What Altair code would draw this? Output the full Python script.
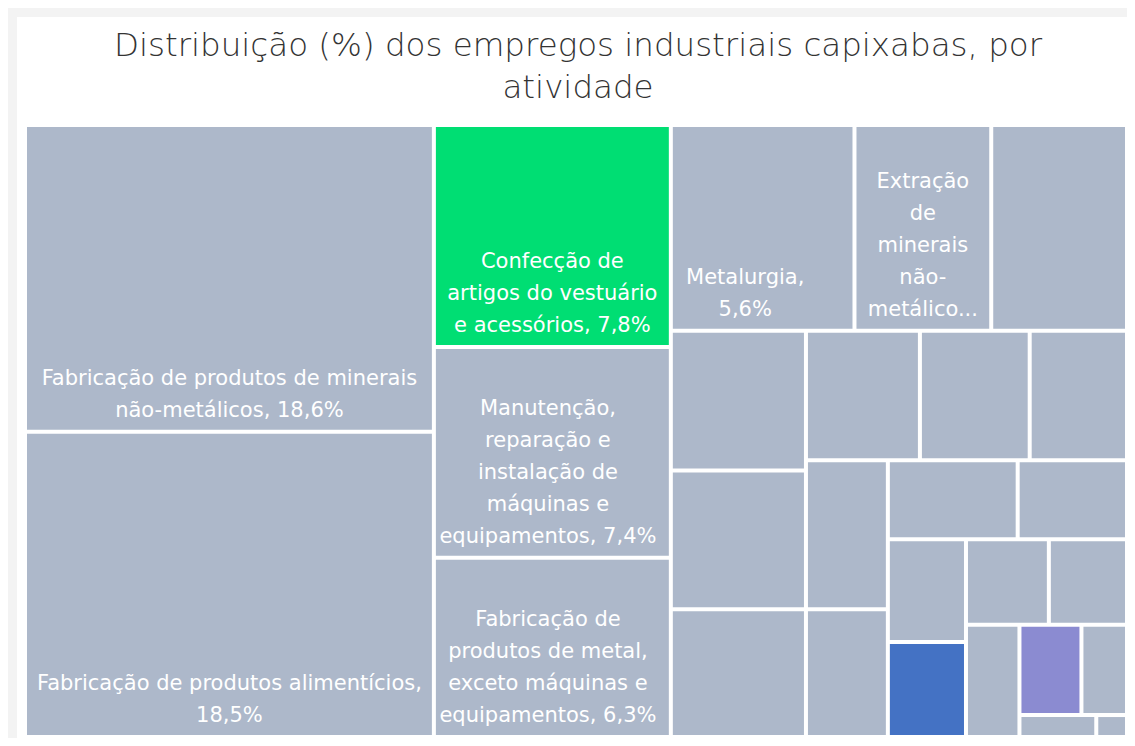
import altair as alt
import pandas as pd

# ---------------- data ----------------
names = [
    "Fabricação de produtos de minerais não-metálicos",
    "Fabricação de produtos alimentícios",
    "Confecção de artigos do vestuário e acessórios",
    "Manutenção, reparação e instalação de máquinas e equipamentos",
    "Fabricação de produtos de metal, exceto máquinas e equipamentos",
    "Metalurgia",
    "Extração de minerais não-metálicos",
    "Fabricação de celulose, papel e produtos de papel",
    "Extração de minerais metálicos",
    "Fabricação de móveis",
    "Fabricação de produtos de borracha e de material plástico",
    "Fabricação de bebidas",
    "Fabricação de produtos químicos",
    "Impressão e reprodução de gravações",
    "Fabricação de máquinas e equipamentos",
    "Preparação de couros e fabricação de calçados",
    "Fabricação de produtos de madeira",
    "Fabricação de veículos automotores, reboques e carrocerias",
    "Fabricação de produtos têxteis",
    "Extração de petróleo e gás natural",
    "Fabricação de máquinas, aparelhos e materiais elétricos",
    "Fabricação de produtos diversos",
    "Atividades de apoio à extração de minerais",
    "Fabricação de coque, de produtos derivados do petróleo e de biocombustíveis",
    "Fabricação de outros equipamentos de transporte",
    "Fabricação de equipamentos de informática e produtos eletrônicos",
    "Fabricação de produtos farmoquímicos e farmacêuticos",
]
values = [18.6, 18.5, 7.8, 7.4, 6.3, 5.6, 4.17, 4.14, 2.80, 2.78, 2.56, 2.19,
          2.11, 1.87, 1.81, 1.55, 1.52, 1.28, 1.19, 1.10, 1.05, 0.99, 0.89,
          0.83, 0.61, 0.25, 0.10]
highlight = {2: "#00DE73", 19: "#4472C4", 23: "#8B8BD1"}
base_color = "#ADB8CA"

# displayed label text ({v} is filled from the value)
label_tpl = {
    0: "Fabricação de produtos de minerais\nnão-metálicos, {v}",
    1: "Fabricação de produtos alimentícios,\n{v}",
    2: "Confecção de\nartigos do vestuário\ne acessórios, {v}",
    3: "Manutenção,\nreparação e\ninstalação de\nmáquinas e\nequipamentos, {v}",
    4: "Fabricação de\nprodutos de metal,\nexceto máquinas e\nequipamentos, {v}",
    5: "Metalurgia,\n{v}",
    6: "Extração\nde\nminerais\nnão-\nmetálico...",
}

# number of tiles in each successive squarified strip (Power BI grouping)
strip_sizes = [2, 3, 3, 3, 3, 2, 2, 2, 2, 1, 2, 1, 1]

title_lines = ["Distribuição (%) dos empregos industriais capixabas, por", "atividade"]

# ---------------- layout ----------------
TOTAL_W, TOTAL_H = 1119, 730
PAD_L, PAD_T = 9, 9
VIEW_W, VIEW_H = TOTAL_W - PAD_L, TOTAL_H - PAD_T
TM = (8, 108, VIEW_W, 720)  # treemap container in view pixels
GAP = 2
LABEL_FS = 21
LINE_H = 32
FONT = "DejaVu Sans"


def squarify_strips(vals, strips, x0, y0, x1, y1):
    rem = float(sum(vals))
    out = []
    i = 0
    for n in strips:
        grp = vals[i:i + n]
        s = float(sum(grp))
        w, h = x1 - x0, y1 - y0
        if w >= h:
            cw = w * s / rem
            yy = y0
            for v in grp:
                ch = h * v / s
                out.append((x0, yy, x0 + cw, yy + ch))
                yy += ch
            x0 += cw
        else:
            rh = h * s / rem
            xx = x0
            for v in grp:
                cw = w * v / s
                out.append((xx, y0, xx + cw, y0 + rh))
                xx += cw
            y0 += rh
        rem -= s
        i += n
    return out


rects = squarify_strips(values, strip_sizes, *TM)

rows = []
for k, (nm, v, r) in enumerate(zip(names, values, rects)):
    x0, y0, x1, y1 = r[0] + GAP, r[1] + GAP, r[2] - GAP, r[3] - GAP
    lab = ""
    lx = ly = None
    if k in label_tpl:
        lab = label_tpl[k].format(v=f"{v:.1f}".replace(".", ",") + "%")
        lines = lab.split("\n")
        est = max(len(s) for s in lines) * 0.54 * LABEL_FS
        block = min(est, (x1 - x0) - 20)
        lx = x0 + 10 + block / 2
        ly = (y1 - 13) - (len(lines) - 1) * LINE_H
    rows.append(dict(name=nm, value=v, color=highlight.get(k, base_color),
                     x=x0, x2=x1, y=y0, y2=y1, label=lab, lx=lx, ly=ly))
df = pd.DataFrame(rows)

tdf = pd.DataFrame({"t": title_lines,
                    "tx": [561] * len(title_lines),
                    "ty": [39 + 42 * i for i in range(len(title_lines))]})

xs = alt.Scale(domain=[0, VIEW_W], nice=False, zero=False)
ys = alt.Scale(domain=[0, VIEW_H], nice=False, zero=False, reverse=True)

tiles = alt.Chart(df).mark_rect(strokeWidth=0).encode(
    x=alt.X("x:Q", scale=xs, axis=None),
    x2="x2:Q",
    y=alt.Y("y:Q", scale=ys, axis=None),
    y2="y2:Q",
    color=alt.Color("color:N", scale=None),
    tooltip=["name:N", "value:Q"],
)

labels = alt.Chart(df).transform_filter("datum.label != ''").mark_text(
    align="center", baseline="alphabetic", lineBreak="\n", lineHeight=LINE_H,
    fontSize=LABEL_FS, font=FONT, color="white",
).encode(
    x=alt.X("lx:Q", scale=xs, axis=None),
    y=alt.Y("ly:Q", scale=ys, axis=None),
    text="label:N",
)

title = alt.Chart(tdf).mark_text(
    align="center", baseline="alphabetic", fontSize=32.5, font=FONT,
    fontWeight=300, color="#333333",
).encode(
    x=alt.X("tx:Q", scale=xs, axis=None),
    y=alt.Y("ty:Q", scale=ys, axis=None),
    text="t:N",
)

chart = alt.layer(tiles, labels, title).properties(
    width=TOTAL_W, height=TOTAL_H,
    autosize=alt.AutoSizeParams(type="fit", contains="padding"),
    padding={"left": PAD_L, "top": PAD_T, "right": 0, "bottom": 0},
    background="#F3F3F3",
).configure_view(fill="white", stroke=None)

chart.save("out.html", embed_options={"renderer": "svg", "actions": False})
